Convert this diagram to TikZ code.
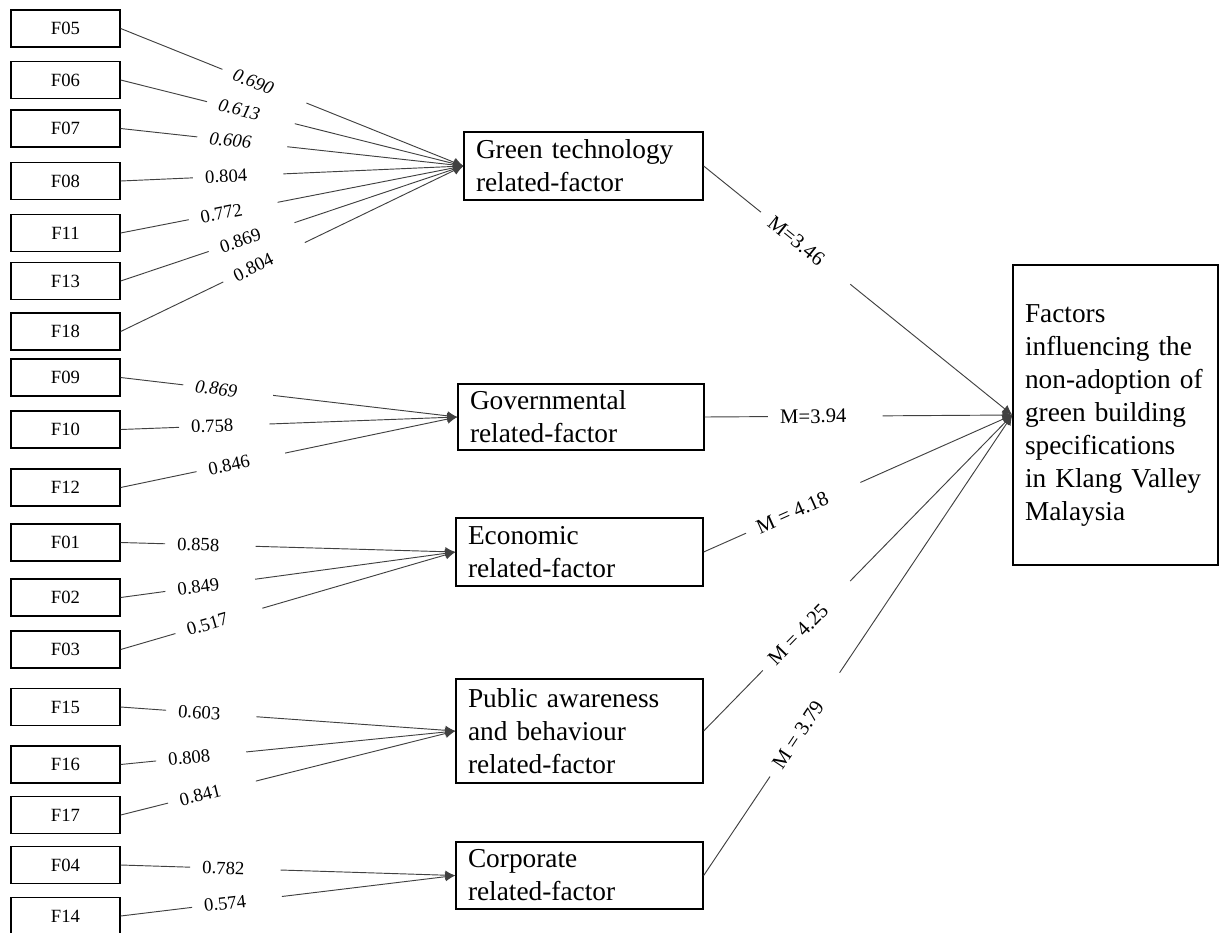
\documentclass[tikz,border=0pt]{standalone}
\usepackage{fontspec}
\setmainfont{Liberation Serif}
\usetikzlibrary{arrows.meta}

\begin{document}
\begin{tikzpicture}[x=0.75pt, y=-0.75pt,
    fbox/.style={draw, line width=1pt, minimum width=81.75pt, minimum height=27.75pt, inner sep=0pt, font=\fontsize{14}{16}\selectfont},
    gbox/.style={draw, line width=1pt, align=left, inner xsep=9pt, inner ysep=0pt, font=\fontsize{20.5}{24.75}\selectfont},
    wt/.style={sloped, inner xsep=9pt, inner ysep=1pt, font=\fontsize{14}{16}\selectfont},
    mt/.style={sloped, inner xsep=9pt, inner ysep=1pt, font=\fontsize{15.5}{17}\selectfont},
    lien/.style={draw=black!75, line width=0.7pt},
    fl/.style={lien, shorten <=18pt, -{Latex[length=7.5pt,width=7pt]}}]
    \useasboundingbox (0,0) rectangle (1220,932);
    % facteurs (gauche)
    \node[fbox] (f05) at (65.5,28.5) {F05};
    \node[fbox] (f06) at (65.5,80) {F06};
    \node[fbox] (f07) at (65.5,128.5) {F07};
    \node[fbox] (f08) at (65.5,181) {F08};
    \node[fbox] (f11) at (65.5,233) {F11};
    \node[fbox] (f13) at (65.5,281) {F13};
    \node[fbox] (f18) at (65.5,331.5) {F18};
    \node[fbox] (f09) at (65.5,377.5) {F09};
    \node[fbox] (f10) at (65.5,429.5) {F10};
    \node[fbox] (f12) at (65.5,487.5) {F12};
    \node[fbox] (f01) at (65.5,542.5) {F01};
    \node[fbox] (f02) at (65.5,597.5) {F02};
    \node[fbox] (f03) at (65.5,649.5) {F03};
    \node[fbox] (f15) at (65.5,707) {F15};
    \node[fbox] (f16) at (65.5,764.5) {F16};
    \node[fbox] (f17) at (65.5,815) {F17};
    \node[fbox] (f04) at (65.5,865) {F04};
    \node[fbox] (f14) at (65.5,916) {F14};
    % groupes (milieu)
    \node[gbox, text width=161.25pt, minimum height=51pt] (gt) at (583.5,166) {Green technology\\related-factor};
    \node[gbox, text width=166.5pt, minimum height=49.5pt] (gov) at (581,417) {Governmental\\related-factor};
    \node[gbox, text width=167.25pt, minimum height=51pt] (eco) at (579.5,552) {Economic\\related-factor};
    \node[gbox, text width=167.25pt, minimum height=78pt] (pub) at (579.5,731) {Public awareness\\and behaviour\\related-factor};
    \node[gbox, text width=167.25pt, minimum height=50.25pt] (cor) at (579.5,875.5) {Corporate\\related-factor};
    % facteur global (droite)
    \node[gbox, text width=135.75pt, minimum height=225pt] (rb) at (1115.5,415) {Factors\\influencing the\\non-adoption of\\green building\\specifications\\in Klang Valley\\Malaysia};
    % vers green technology
    \path (f05.east) -- node[wt, pos=.387] (w05) {\itshape 0.690} (gt.west);
    \draw[lien] (f05.east) -- (w05);
    \draw[fl] (w05) -- (gt.west);
    \path (f06.east) -- node[wt, pos=.346] (w06) {\itshape 0.613} (gt.west);
    \draw[lien] (f06.east) -- (w06);
    \draw[fl] (w06) -- (gt.west);
    \path (f07.east) -- node[wt, pos=.32] (w07) {\itshape 0.606} (gt.west);
    \draw[lien] (f07.east) -- (w07);
    \draw[fl] (w07) -- (gt.west);
    \path (f08.east) -- node[wt, pos=.308] (w08) {0.804} (gt.west);
    \draw[lien] (f08.east) -- (w08);
    \draw[fl] (w08) -- (gt.west);
    \path (f11.east) -- node[wt, pos=.294] (w11) {0.772} (gt.west);
    \draw[lien] (f11.east) -- (w11);
    \draw[fl] (w11) -- (gt.west);
    \path (f13.east) -- node[wt, pos=.349] (w13) {0.869} (gt.west);
    \draw[lien] (f13.east) -- (w13);
    \draw[fl] (w13) -- (gt.west);
    \path (f18.east) -- node[wt, pos=.387] (w18) {0.804} (gt.west);
    \draw[lien] (f18.east) -- (w18);
    \draw[fl] (w18) -- (gt.west);
    % vers governmental
    \path (f09.east) -- node[wt, pos=.284] (w09) {\itshape 0.869} (gov.west);
    \draw[lien] (f09.east) -- (w09);
    \draw[fl] (w09) -- (gov.west);
    \path (f10.east) -- node[wt, pos=.272] (w10) {0.758} (gov.west);
    \draw[lien] (f10.east) -- (w10);
    \draw[fl] (w10) -- (gov.west);
    \path (f12.east) -- node[wt, pos=.322] (w12) {0.846} (gov.west);
    \draw[lien] (f12.east) -- (w12);
    \draw[fl] (w12) -- (gov.west);
    % vers economic
    \path (f01.east) -- node[wt, pos=.232] (w01) {0.858} (eco.west);
    \draw[lien] (f01.east) -- (w01);
    \draw[fl] (w01) -- (eco.west);
    \path (f02.east) -- node[wt, pos=.232] (w02) {0.849} (eco.west);
    \draw[lien] (f02.east) -- (w02);
    \draw[fl] (w02) -- (eco.west);
    \path (f03.east) -- node[wt, pos=.259] (w03) {0.517} (eco.west);
    \draw[lien] (f03.east) -- (w03);
    \draw[fl] (w03) -- (eco.west);
    % vers public awareness
    \path (f15.east) -- node[wt, pos=.235] (w15) {0.603} (pub.west);
    \draw[lien] (f15.east) -- (w15);
    \draw[fl] (w15) -- (pub.west);
    \path (f16.east) -- node[wt, pos=.205] (w16) {0.808} (pub.west);
    \draw[lien] (f16.east) -- (w16);
    \draw[fl] (w16) -- (pub.west);
    \path (f17.east) -- node[wt, pos=.238] (w17) {0.841} (pub.west);
    \draw[lien] (f17.east) -- (w17);
    \draw[fl] (w17) -- (pub.west);
    % vers corporate
    \path (f04.east) -- node[wt, pos=.307] (w04) {0.782} (cor.west);
    \draw[lien] (f04.east) -- (w04);
    \draw[fl] (w04) -- (cor.west);
    \path (f14.east) -- node[wt, pos=.312] (w14) {0.574} (cor.west);
    \draw[lien] (f14.east) -- (w14);
    \draw[fl] (w14) -- (cor.west);
    % moyennes vers la droite
    \path (gt.east) -- node[mt, pos=.30] (m1) {M=3.46} (rb.west);
    \draw[lien] (gt.east) -- (m1);
    \draw[fl] (m1) -- (rb.west);
    \path (gov.east) -- node[mt, pos=.353] (m2) {M=3.94} (rb.west);
    \draw[lien] (gov.east) -- (m2);
    \draw[fl] (m2) -- (rb.west);
    \path (eco.east) -- node[mt, pos=.287] (m3) {M = 4.18} (rb.west);
    \draw[lien] (eco.east) -- (m3);
    \draw[fl] (m3) -- (rb.west);
    \path (pub.east) -- node[mt, pos=.306] (m4) {M = 4.25} (rb.west);
    \draw[lien] (pub.east) -- (m4);
    \draw[fl] (m4) -- (rb.west);
    \path (cor.east) -- node[mt, pos=.306] (m5) {M = 3.79} (rb.west);
    \draw[lien] (cor.east) -- (m5);
    \draw[fl] (m5) -- (rb.west);
\end{tikzpicture}
\end{document}
